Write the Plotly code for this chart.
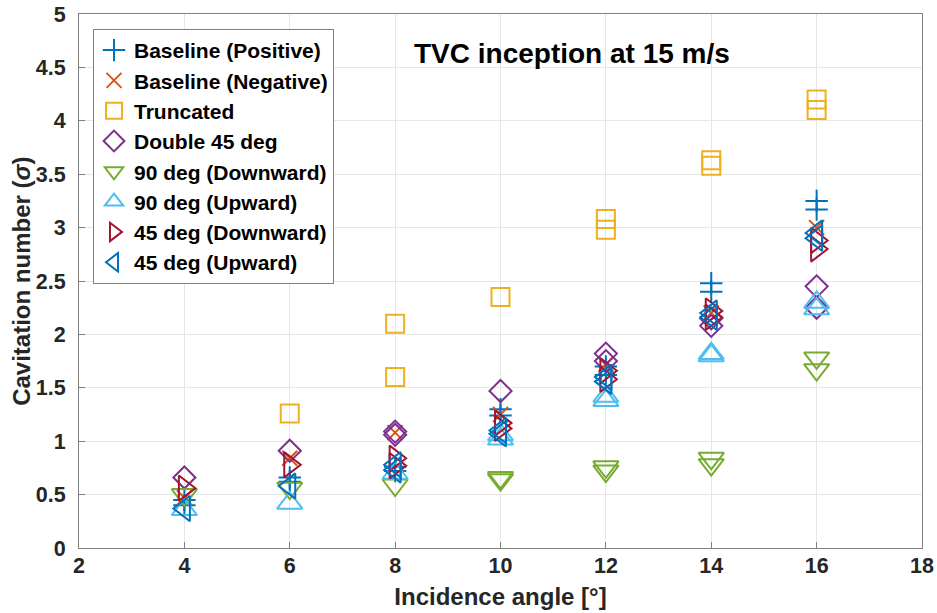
import plotly.graph_objects as go

# Incidence angle [deg] and cavitation number for each tip geometry
bp_angle = [4, 4, 6, 6, 8, 8, 10, 10, 12, 12, 14, 14, 16, 16]
bp_sigma = [0.45, 0.40, 0.66, 0.62, 0.76, 0.72, 1.30, 1.24, 1.70, 1.62, 2.48, 2.40, 3.25, 3.17]

bn_angle = [4, 6, 8, 10, 12, 14, 16]
bn_sigma = [0.47, 0.84, 1.08, 1.25, 1.72, 2.20, 3.00]

tr_angle = [6, 8, 8, 10, 12, 12, 14, 14, 16, 16]
tr_sigma = [1.26, 2.10, 1.60, 2.35, 3.08, 2.98, 3.63, 3.58, 4.20, 4.10]

d45_angle = [4, 6, 8, 8, 10, 12, 12, 14, 14, 16, 16]
d45_sigma = [0.66, 0.91, 1.09, 1.06, 1.47, 1.82, 1.75, 2.15, 2.08, 2.45, 2.25]

d90_angle = [4, 6, 8, 10, 10, 12, 12, 14, 14, 16, 16]
d90_sigma = [0.50, 0.56, 0.59, 0.66, 0.64, 0.76, 0.72, 0.84, 0.78, 1.78, 1.67]

u90_angle = [4, 6, 8, 10, 10, 12, 12, 14, 14, 16, 16]
u90_sigma = [0.36, 0.42, 0.70, 1.02, 1.06, 1.38, 1.42, 1.82, 1.80, 2.30, 2.24]

d45d_angle = [4, 6, 8, 8, 10, 10, 12, 12, 14, 14, 16, 16]
d45d_sigma = [0.56, 0.78, 0.84, 0.77, 1.17, 1.12, 1.66, 1.58, 2.22, 2.16, 2.88, 2.80]

u45_angle = [4, 6, 8, 8, 10, 10, 12, 12, 14, 14, 16, 16]
u45_sigma = [0.37, 0.58, 0.78, 0.73, 1.10, 1.07, 1.60, 1.56, 2.20, 2.16, 2.95, 2.90]

series = [
    ("Baseline (Positive)", bp_angle, bp_sigma, "cross-thin-open", "#0072BD", 16),
    ("Baseline (Negative)", bn_angle, bn_sigma, "x-thin-open", "#D95319", 15),
    ("Truncated", tr_angle, tr_sigma, "square-open", "#EDB120", 18),
    ("Double 45 deg", d45_angle, d45_sigma, "diamond-open", "#7E2F8E", 17),
    ("90 deg (Downward)", d90_angle, d90_sigma, "triangle-down-open", "#77AC30", 22),
    ("90 deg (Upward)", u90_angle, u90_sigma, "triangle-up-open", "#4DBEEE", 22),
    ("45 deg (Downward)", d45d_angle, d45d_sigma, "triangle-right-open", "#A2142F", 22),
    ("45 deg (Upward)", u45_angle, u45_sigma, "triangle-left-open", "#0072BD", 22),
]

FONT = "Liberation Sans, Arial, sans-serif"

fig = go.Figure()
for i, (name, xs, ys, sym, col, size) in enumerate(series):
    fig.add_trace(go.Scatter(
        x=xs, y=ys, mode="markers", name=f"<b>{name}</b>", legendgroup=f"g{i}",
        marker=dict(symbol=sym, size=size, color=col, line=dict(color=col, width=2)),
    ))

fig.add_annotation(
    x=11.35, y=4.63, xref="x", yref="y", text="<b>TVC inception at 15 m/s</b>",
    showarrow=False, font=dict(family=FONT, size=28, color="#000000"),
)

# y-axis title placed as a rotated annotation next to the tick labels
fig.add_annotation(
    x=-0.069, y=0.5, xref="paper", yref="paper", xanchor="center", yanchor="middle",
    text="<b>Cavitation number (<i>σ</i>)</b>", textangle=-90, showarrow=False,
    font=dict(family=FONT, size=24, color="#262626"),
)

axis_common = dict(
    showgrid=True, gridcolor="#E6E6E6", gridwidth=1,
    showline=True, linecolor="#808080", linewidth=1, mirror=True,
    ticks="inside", ticklen=6, tickcolor="#808080",
    zeroline=False, automargin=False,
    tickfont=dict(family=FONT, size=21.5, color="#262626", weight="bold"),
)

fig.update_layout(
    width=937, height=613,
    margin=dict(l=79, r=15, t=14, b=65),
    paper_bgcolor="white", plot_bgcolor="white",
    font=dict(family=FONT, color="#262626"),
    xaxis=dict(range=[2, 18], dtick=2, tick0=2, ticklabelstandoff=-2,
               title=dict(text="<b>Incidence angle [°]</b>", font=dict(family=FONT, size=24, color="#262626"), standoff=11),
               **axis_common),
    yaxis=dict(range=[0, 5], dtick=0.5, tick0=0, ticklabelstandoff=8,
               **axis_common),
    legend=dict(
        x=0.0166, y=0.972, xanchor="left", yanchor="top",
        bgcolor="white", bordercolor="#808080", borderwidth=1,
        font=dict(family=FONT, size=21, color="#000000"),
        tracegroupgap=0, itemwidth=30,
    ),
    showlegend=True,
)

fig.write_html("out.html")
